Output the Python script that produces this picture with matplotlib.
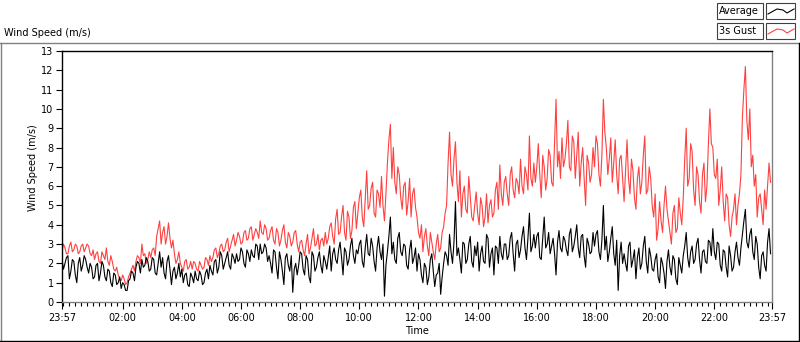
import matplotlib
matplotlib.use("Agg")
import matplotlib.pyplot as plt
from matplotlib.patches import Rectangle
from matplotlib.lines import Line2D
import numpy as np

# readings every 6 minutes from 23:57 (previous day), 10 per hour,
# plus the in-between readings (3 minutes later) in the *_b lists
step_min = 6
avg = [
    2.2, 2.0, 2.4, 1.6, 2.1, 1.0, 2.3, 1.9, 2.2, 1.5,
    1.8, 1.3, 2.0, 1.5, 1.9, 1.1, 1.6, 0.8, 1.4, 1.0,
    0.7, 0.9, 0.6, 1.2, 1.5, 1.8, 2.0, 2.2, 1.9, 2.1,
    1.7, 2.2, 1.4, 2.6, 2.3, 1.2, 2.4, 0.9, 1.8, 1.5,
    1.3, 1.0, 1.5, 0.8, 1.3, 1.6, 1.1, 1.4, 1.0, 1.7,
    1.9, 1.4, 2.2, 1.8, 2.4, 2.0, 2.6, 1.7, 2.3, 2.5,
    2.2, 2.6, 1.8, 2.5, 2.7, 2.3, 2.9, 3.0, 2.6, 2.8,
    2.4, 1.5, 2.6, 1.2, 2.2, 0.9, 2.5, 1.6, 0.5, 2.0,
    1.9, 2.5, 1.4, 2.2, 1.0, 2.4, 1.8, 2.6, 1.5, 2.1,
    2.3, 1.6, 2.8, 2.0, 3.1, 1.4, 2.6, 2.2, 3.3, 2.0,
    2.5, 3.2, 1.8, 3.5, 2.4, 2.9, 1.6, 3.4, 2.2, 0.3,
    2.6, 4.4, 3.1, 2.0, 3.6, 2.4, 2.9, 1.7, 3.2, 2.3,
    1.6, 2.2, 1.0, 1.8, 1.3, 2.5, 0.8, 1.5, 0.4, 2.0,
    2.4, 3.5, 2.0, 5.2, 2.8, 1.5, 3.0, 2.2, 3.4, 1.8,
    2.4, 1.6, 2.9, 2.0, 3.3, 2.5, 1.4, 2.8, 3.4, 2.2,
    3.0, 2.4, 3.6, 1.6, 3.2, 2.7, 3.9, 2.2, 4.6, 2.9,
    2.8, 3.6, 2.2, 4.4, 3.0, 2.5, 3.3, 1.4, 3.7, 2.6,
    3.2, 2.4, 3.8, 2.9, 4.0, 2.3, 3.5, 1.8, 3.0, 2.6,
    2.9, 3.7, 2.2, 5.0, 3.4, 2.6, 3.9, 1.9, 0.6, 3.1,
    2.5, 1.6, 3.1, 2.2, 1.2, 2.8, 2.0, 3.4, 1.5, 2.4,
    1.6, 2.5, 1.0, 2.0, 0.7, 2.7, 1.4, 2.2, 0.9, 1.9,
    2.4, 3.6, 1.8, 2.9, 2.2, 3.3, 1.5, 2.7, 2.0, 3.1,
    3.8, 2.2, 3.0, 1.6, 2.6, 1.3, 2.4, 1.8, 3.1, 1.9,
    3.5, 4.8, 2.8, 3.8, 2.2, 3.0, 1.2, 2.6, 1.6, 3.8,
]
avg_b = [
    1.7, 2.3, 1.2, 2.2, 1.4, 2.0, 1.6, 2.4, 1.8, 2.0,
    1.2, 1.9, 1.1, 2.1, 1.3, 1.7, 1.0, 1.5, 0.9, 1.3,
    1.0, 0.6, 1.1, 1.6, 1.1, 2.1, 1.5, 1.8, 2.3, 1.6,
    2.3, 1.5, 2.0, 1.8, 1.5, 2.1, 1.7, 1.6, 1.2, 2.0,
    1.7, 1.4, 0.9, 1.5, 1.0, 1.2, 1.6, 0.9, 1.5, 1.2,
    1.6, 2.1, 1.5, 2.6, 1.7, 2.3, 1.9, 2.5, 2.0, 2.1,
    2.8, 2.0, 2.7, 2.1, 2.4, 3.0, 2.2, 2.5, 3.0, 2.1,
    2.0, 2.7, 1.8, 2.6, 1.6, 2.3, 1.9, 2.4, 1.7, 1.4,
    2.6, 1.7, 2.4, 1.3, 2.6, 1.6, 2.3, 1.9, 2.4, 1.7,
    2.9, 2.5, 2.2, 2.7, 2.3, 2.8, 1.9, 2.9, 2.4, 2.7,
    3.0, 2.1, 2.8, 2.5, 3.3, 2.1, 2.8, 2.6, 3.0, 1.9,
    3.4, 2.5, 2.2, 3.3, 2.6, 3.0, 1.9, 2.7, 2.0, 2.8,
    2.5, 1.4, 2.0, 0.9, 2.2, 1.6, 1.4, 2.0, 1.3, 2.6,
    1.9, 2.6, 3.1, 2.4, 2.2, 3.1, 2.0, 3.0, 2.1, 2.9,
    3.1, 2.5, 2.1, 3.5, 1.8, 2.8, 2.9, 2.0, 2.5, 3.0,
    2.2, 3.3, 2.5, 3.0, 2.3, 3.4, 2.8, 3.3, 2.6, 3.5,
    3.4, 2.3, 3.3, 2.8, 3.6, 2.9, 2.5, 3.1, 2.8, 3.4,
    2.7, 3.5, 2.6, 3.4, 2.8, 3.4, 2.4, 3.3, 2.5, 3.6,
    3.5, 2.6, 3.2, 2.7, 2.1, 3.3, 2.5, 3.2, 2.4, 2.0,
    2.0, 2.9, 1.8, 2.7, 2.3, 1.7, 2.9, 2.1, 2.8, 1.7,
    2.2, 1.3, 2.3, 1.5, 2.1, 1.8, 2.4, 1.2, 2.3, 1.5,
    2.9, 2.3, 2.6, 2.0, 3.0, 2.2, 2.6, 2.1, 3.2, 2.4,
    2.6, 3.1, 1.9, 2.7, 1.8, 2.9, 1.6, 2.6, 2.3, 2.8,
    4.2, 3.1, 3.5, 2.6, 3.4, 1.8, 2.4, 1.9, 3.1, 2.5,
]
gust = [
    2.6, 2.8, 2.5, 3.1, 2.7, 2.9, 2.6, 3.0, 2.8, 2.9,
    2.4, 2.2, 2.6, 2.0, 2.4, 2.8, 1.9, 2.1, 1.6, 1.4,
    1.1, 1.2, 1.0, 1.5, 1.9, 2.1, 2.3, 3.0, 2.5, 2.2,
    2.3, 2.8, 3.4, 4.2, 3.6, 3.0, 4.1, 2.8, 2.5, 2.2,
    2.0, 1.6, 2.2, 1.8, 1.7, 2.0, 1.6, 1.9, 1.8, 2.2,
    2.4, 2.3, 2.8, 2.5, 3.0, 2.7, 3.3, 2.9, 3.5, 3.2,
    3.4, 3.1, 3.7, 3.3, 3.9, 3.5, 3.6, 4.2, 3.5, 3.8,
    3.3, 3.9, 3.0, 3.6, 3.2, 4.0, 2.8, 3.4, 3.1, 3.7,
    2.6, 3.2, 2.4, 3.5, 2.8, 3.8, 3.0, 2.7, 3.3, 3.6,
    3.3, 4.1, 3.0, 4.8, 3.6, 5.0, 3.2, 4.4, 3.7, 5.2,
    4.6, 5.8, 3.9, 6.8, 5.0, 6.2, 4.4, 5.6, 6.5, 4.2,
    7.2, 9.2, 8.0, 5.6, 6.6, 4.8, 6.2, 5.2, 4.4, 5.9,
    4.4, 3.3, 2.6, 3.8, 2.4, 3.1, 2.2, 3.5, 2.8, 3.9,
    5.0, 8.8, 6.0, 8.3, 5.2, 4.4, 6.0, 4.6, 5.5, 4.2,
    5.7, 4.0, 5.0, 4.4, 4.1, 5.3, 4.6, 6.2, 7.1, 5.0,
    6.5, 5.0, 7.0, 5.4, 6.2, 7.4, 5.6, 6.6, 8.6, 6.0,
    6.2, 8.2, 5.4, 7.0, 6.4, 7.6, 6.0, 10.5, 7.8, 8.5,
    7.4, 9.4, 6.8, 8.3, 7.6, 6.0, 8.0, 5.0, 7.2, 6.6,
    7.0, 8.2, 6.0, 10.5, 8.0, 7.4, 6.2, 8.4, 5.6, 7.6,
    5.2, 8.4, 5.6, 6.8, 4.8, 7.0, 6.2, 8.6, 5.8, 6.4,
    4.4, 3.2, 5.2, 3.6, 6.0, 4.2, 3.0, 5.0, 3.8, 4.6,
    5.4, 9.0, 6.4, 7.8, 5.0, 6.6, 4.6, 7.2, 6.0, 10.0,
    8.0, 6.4, 5.0, 7.0, 4.2, 5.4, 3.4, 4.8, 4.0, 5.6,
    9.6, 12.2, 8.4, 7.0, 6.0, 4.4, 5.6, 4.0, 4.8, 7.2,
]
gust_b = [
    3.0, 2.5, 2.9, 2.6, 3.0, 2.5, 2.9, 2.6, 3.0, 2.5,
    2.7, 2.5, 2.1, 2.6, 2.2, 2.1, 2.4, 1.7, 1.8, 1.2,
    1.4, 0.9, 1.3, 1.7, 1.6, 2.4, 2.0, 2.4, 2.0, 2.6,
    2.7, 2.4, 3.8, 3.0, 3.9, 3.4, 3.3, 3.2, 2.0, 2.6,
    1.8, 2.1, 1.7, 2.1, 2.1, 1.7, 2.1, 1.7, 2.3, 1.9,
    2.1, 2.7, 2.3, 2.9, 2.6, 3.1, 2.6, 3.2, 2.9, 3.6,
    3.0, 3.6, 3.2, 3.8, 3.2, 3.8, 3.3, 3.6, 4.0, 3.2,
    3.7, 3.2, 3.8, 2.9, 3.7, 3.1, 3.6, 2.9, 3.6, 3.0,
    3.1, 2.7, 3.0, 2.5, 3.3, 2.9, 3.5, 3.2, 2.9, 3.0,
    3.9, 3.4, 4.3, 3.5, 4.4, 3.6, 4.7, 3.3, 4.9, 3.8,
    5.4, 4.4, 5.4, 4.8, 5.9, 4.6, 5.8, 4.9, 5.0, 5.6,
    8.4, 6.4, 6.2, 7.0, 5.4, 6.0, 4.5, 6.4, 5.6, 4.9,
    3.6, 4.0, 3.4, 2.9, 3.6, 2.6, 3.0, 2.6, 3.6, 4.6,
    7.2, 6.6, 7.4, 6.2, 6.8, 5.6, 4.8, 6.5, 4.4, 5.0,
    4.6, 5.4, 3.9, 5.6, 5.0, 4.4, 5.8, 4.8, 5.6, 6.2,
    5.6, 6.6, 5.8, 6.4, 5.6, 6.0, 7.0, 5.8, 6.4, 7.2,
    7.0, 6.6, 7.6, 5.8, 7.9, 6.2, 8.3, 7.0, 6.4, 7.0,
    8.2, 7.0, 8.6, 6.4, 8.8, 7.2, 6.4, 7.6, 6.2, 8.0,
    8.6, 6.6, 7.6, 8.8, 6.6, 8.5, 7.2, 6.6, 7.4, 6.4,
    6.8, 6.4, 7.4, 5.4, 6.4, 5.6, 7.6, 5.6, 7.0, 5.0,
    5.6, 3.8, 4.2, 5.0, 4.8, 3.6, 4.6, 3.6, 5.4, 4.0,
    7.4, 6.0, 8.2, 5.8, 7.0, 5.2, 6.6, 5.2, 8.2, 8.2,
    6.6, 7.4, 5.8, 5.2, 5.6, 4.0, 4.4, 5.6, 5.0, 6.6,
    11.0, 9.4, 10.0, 7.6, 6.6, 5.4, 4.8, 5.8, 6.0, 6.2,
]
series_names = ["Average", "3s Gust"]
major_labels = ["23:57", "02:00", "04:00", "06:00", "08:00", "10:00", "12:00",
                "14:00", "16:00", "18:00", "20:00", "22:00", "23:57"]
major_minutes = [0, 123, 243, 363, 483, 603, 723, 843, 963, 1083, 1203, 1323, 1440]

RED = "#ff4040"
GRAY = "#808080"
FS = 7

plt.rcParams["font.family"] = ["DejaVu Sans"]

# merge the two sets of readings in time order
t = np.arange(2 * len(avg)) * (step_min / 2)
avg_all = np.column_stack((avg, avg_b)).ravel()
gust_all = np.column_stack((gust, gust_b)).ravel()

fig = plt.figure(figsize=(8.0, 3.42), dpi=100)
W, H = 800, 342

# outer panel frame
fig.add_artist(Line2D([0, 799 / W], [1 - 42.5 / H] * 2, color=GRAY, lw=1))
fig.add_artist(Line2D([1 / W] * 2, [1 / H, 1 - 42.5 / H], color=GRAY, lw=1))
fig.add_artist(Line2D([0, 799 / W], [0.6 / H] * 2, color="black", lw=1))
fig.add_artist(Line2D([798.5 / W] * 2, [0, 1 - 42.5 / H], color="black", lw=1))

fig.text(4 / W, 1 - 33 / H, "Wind Speed (m/s)", fontsize=FS, ha="left", va="center")

ax = fig.add_axes([62 / W, 40 / H, 710 / W, 251 / H])
ax.plot(t, gust_all, color=RED, lw=0.8)
ax.plot(t, avg_all, color="black", lw=0.8)
ax.set_xlim(0, 1440)
ax.set_ylim(0, 13)
ax.set_yticks(range(0, 14))
ax.set_xticks(major_minutes)
ax.set_xticklabels(major_labels)
ax.set_xticks(list(range(3, 1440, 12)), minor=True)
ax.tick_params(axis="both", labelsize=FS, direction="out", width=0.8, color="black")
ax.tick_params(axis="x", which="major", length=5, pad=3)
ax.tick_params(axis="x", which="minor", length=3, width=0.8)
ax.tick_params(axis="y", length=4, pad=2)
for side in ("left", "top"):
    ax.spines[side].set_color("black")
for side in ("right", "bottom"):
    ax.spines[side].set_color(GRAY)
for s in ax.spines.values():
    s.set_linewidth(1)

fig.text(33 / W, 1 - 168 / H, "Wind Speed (m/s)", fontsize=FS, rotation=90,
         ha="center", va="center")
fig.text(417 / W, 1 - 331 / H, "Time", fontsize=FS, ha="center", va="center")

# legend boxes
for i, (name, col) in enumerate(zip(series_names, ["black", RED])):
    y0 = 3 + i * 20
    fig.add_artist(Rectangle((717 / W, 1 - (y0 + 16) / H), 46 / W, 16 / H,
                             fill=False, ec="#404040", lw=0.8))
    fig.add_artist(Rectangle((766 / W, 1 - (y0 + 16) / H), 29 / W, 16 / H,
                             fill=False, ec="#404040", lw=0.8))
    fig.text(719 / W, 1 - (y0 + 8.5) / H, name, fontsize=FS, ha="left", va="center")
    ix = np.array([768, 777, 783, 787, 794]) / W
    iy = 1 - (y0 + np.array([11, 6, 7, 10, 6])) / H
    fig.add_artist(Line2D(ix, iy, color=col, lw=0.8))

fig.savefig("out.png", dpi=100)
